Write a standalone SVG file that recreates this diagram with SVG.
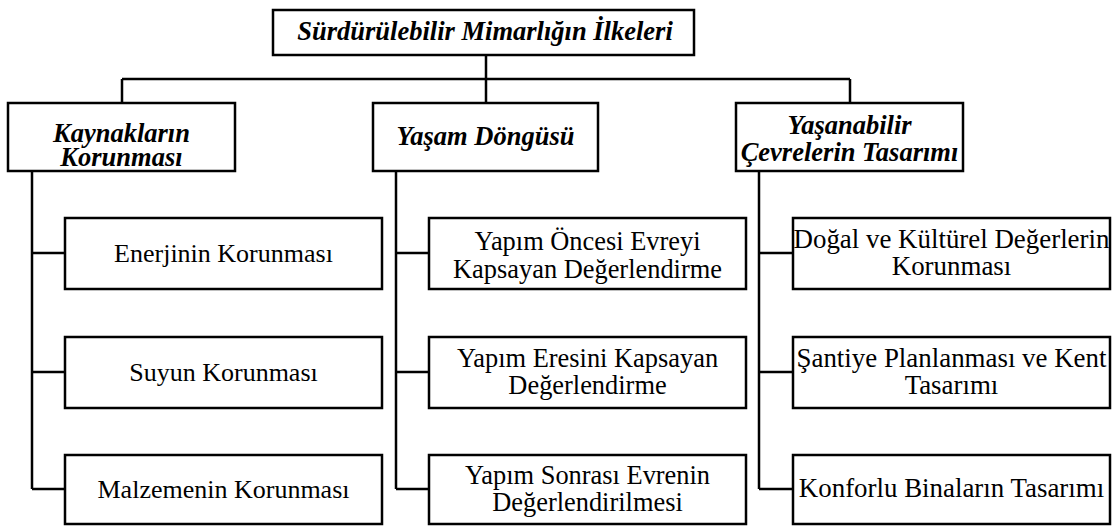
<svg xmlns="http://www.w3.org/2000/svg" width="1119" height="526" viewBox="0 0 1119 526">
  <style>
    .box { fill: #ffffff; stroke: #000000; stroke-width: 2.5; }
    .wire { fill: none; stroke: #000000; stroke-width: 2.5; }
    .txt { font-family: "Liberation Serif", "Times New Roman", serif; fill: #000000; text-anchor: middle; }
    .head { font-weight: bold; font-style: italic; font-size: 26.5px; }
    .colA { font-size: 26px; }
    .colB { font-size: 26.4px; }
    .colC { font-size: 26.9px; }
  </style>
  <rect width="1119" height="526" fill="#ffffff"/>

  <!-- connectors -->
  <g id="connectors">
    <path class="wire" d="M486 55 V79 M122 79 H850 M122 79 V103 M486 79 V103 M850 79 V103"/>
    <path class="wire" d="M32 171 V489 M32 253 H65 M32 372 H65 M32 489 H65"/>
    <path class="wire" d="M396 171 V489 M396 253 H429 M396 372 H429 M396 489 H429"/>
    <path class="wire" d="M759 171 V489 M759 253 H793 M759 372 H793 M759 489 H793"/>
  </g>

  <g class="txt">
    <!-- root -->
    <g id="root">
      <rect class="box" x="273" y="10" width="421" height="45"/>
      <text class="head" x="485" y="40">Sürdürülebilir Mimarlığın İlkeleri</text>
    </g>

    <!-- second level -->
    <g id="kaynaklar">
      <rect class="box" x="8" y="103" width="227" height="68"/>
      <text class="head" x="121.5" y="142">Kaynakların</text>
      <text class="head" x="121.5" y="166">Korunması</text>
    </g>
    <g id="yasam-dongusu">
      <rect class="box" x="373" y="103" width="225" height="68"/>
      <text class="head" x="485.5" y="145">Yaşam Döngüsü</text>
    </g>
    <g id="yasanabilir">
      <rect class="box" x="736" y="103" width="227" height="68"/>
      <text class="head" x="849.5" y="134">Yaşanabilir</text>
      <text class="head" x="849.5" y="161">Çevrelerin Tasarımı</text>
    </g>

    <!-- column A leaves -->
    <g id="enerji">
      <rect class="box" x="65" y="218" width="317" height="71"/>
      <text class="colA" x="223.5" y="262">Enerjinin Korunması</text>
    </g>
    <g id="su">
      <rect class="box" x="65" y="337" width="317" height="71"/>
      <text class="colA" x="223.5" y="381">Suyun Korunması</text>
    </g>
    <g id="malzeme">
      <rect class="box" x="65" y="455" width="317" height="69"/>
      <text class="colA" x="223.5" y="498">Malzemenin Korunması</text>
    </g>

    <!-- column B leaves -->
    <g id="yapim-oncesi">
      <rect class="box" x="429" y="218" width="317" height="71"/>
      <text class="colB" x="587.5" y="250">Yapım Öncesi Evreyi</text>
      <text class="colB" x="587.5" y="278">Kapsayan Değerlendirme</text>
    </g>
    <g id="yapim-evresi">
      <rect class="box" x="429" y="337" width="317" height="71"/>
      <text class="colB" x="587.5" y="367">Yapım Eresini Kapsayan</text>
      <text class="colB" x="587.5" y="394">Değerlendirme</text>
    </g>
    <g id="yapim-sonrasi">
      <rect class="box" x="429" y="455" width="317" height="69"/>
      <text class="colB" x="587.5" y="484">Yapım Sonrası Evrenin</text>
      <text class="colB" x="587.5" y="511">Değerlendirilmesi</text>
    </g>

    <!-- column C leaves -->
    <g id="dogal-kulturel">
      <rect class="box" x="793" y="218" width="317" height="71"/>
      <text class="colC" x="951.5" y="248">Doğal ve Kültürel Değerlerin</text>
      <text class="colC" x="951.5" y="275">Korunması</text>
    </g>
    <g id="santiye">
      <rect class="box" x="793" y="337" width="317" height="71"/>
      <text class="colC" x="951.5" y="367">Şantiye Planlanması ve Kent</text>
      <text class="colC" x="951.5" y="394">Tasarımı</text>
    </g>
    <g id="konfor">
      <rect class="box" x="793" y="455" width="317" height="69"/>
      <text class="colC" x="951.5" y="497">Konforlu Binaların Tasarımı</text>
    </g>
  </g>
</svg>
